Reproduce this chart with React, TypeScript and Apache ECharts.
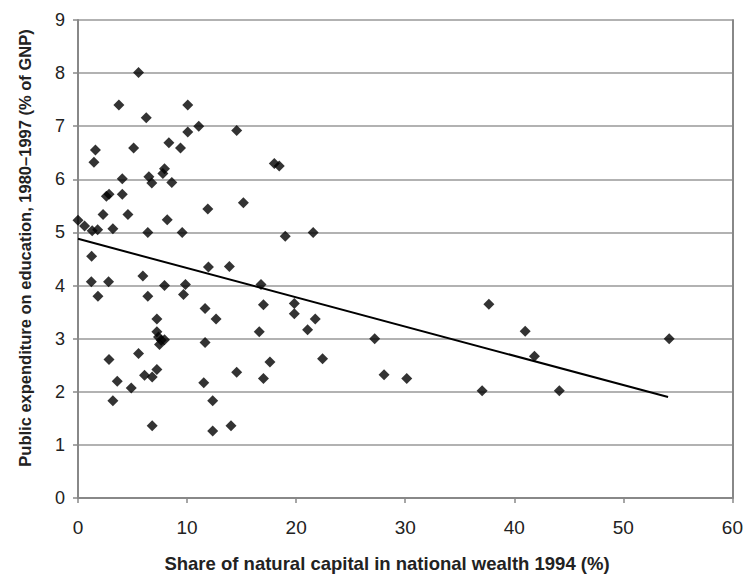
import React, { useEffect, useRef } from "react";
import * as echarts from "echarts";

const naturalCapitalShare: number[] = [
  0, 0.6, 1.3, 1.8, 1.25, 1.6, 1.46, 2.3, 2.6, 2.85, 3.2, 3.75, 4.06, 4.06, 4.58, 5.1, 5.55, 6.26, 6.4, 6.5,
  6.77, 7.93, 7.78, 8.18, 8.33, 8.6, 9.4, 9.55, 10.06, 10.06, 11.07, 11.9, 14.55, 15.16, 18.0, 18.45, 19.0, 21.56,
  1.22, 1.83, 2.8, 2.84, 3.6, 3.2, 4.88, 5.55, 5.95, 6.4, 6.1, 6.8, 7.23, 6.8, 7.23, 7.23, 7.38, 7.63, 7.47, 7.93,
  7.93, 9.85, 9.67, 11.96, 11.65, 12.66, 11.65, 11.53, 12.35, 12.35, 13.88, 14.55, 14.03, 16.78, 17.0, 16.62, 17.6,
  17.0, 19.83, 19.83, 21.05,
  21.75, 22.42, 27.2, 28.06, 30.14, 37.05, 37.67, 41.0, 41.85, 44.13, 54.2,
];

const educationSpending: number[] = [
  5.23, 5.12, 5.03, 5.05, 4.55, 6.55, 6.32, 5.34, 5.68, 5.72, 5.07, 7.4, 6.01, 5.72, 5.34, 6.59, 8.01, 7.16, 5.0, 6.05,
  5.93, 6.2, 6.11, 5.24, 6.69, 5.94, 6.59, 5.0, 7.4, 6.89, 7.0, 5.44, 6.92, 5.56, 6.3, 6.25, 4.93, 5.0,
  4.07, 3.8, 4.07, 2.61, 2.2, 1.83, 2.07, 2.72, 4.18, 3.8, 2.31, 2.28, 2.42, 1.36, 3.37, 3.13, 3.03, 2.97, 2.89, 2.98,
  4.0, 4.02, 3.83, 4.35, 3.57, 3.37, 2.93, 2.17, 1.83, 1.26, 4.36, 2.37, 1.36, 4.02, 3.64, 3.13, 2.56,
  2.25, 3.66, 3.47, 3.17,
  3.37, 2.62, 3.0, 2.32, 2.25, 2.02, 3.65, 3.14, 2.67, 2.02, 3.0,
];

const trendX: number[] = [0, 54.1];
const trendY: number[] = [4.88, 1.9];

const xTitle = "Share of natural capital in national wealth 1994 (%)";
const yTitle = "Public expenditure on education, 1980\u20131997 (% of GNP)";

export default function App() {
  const ref = useRef<HTMLDivElement>(null);
  useEffect(() => {
    if (!ref.current) return;
    const chart = echarts.init(ref.current, undefined, { renderer: "svg" });
    const points = naturalCapitalShare.map((x, i) => [x, educationSpending[i]]);
    const trend = trendX.map((x, i) => [x, trendY[i]]);
    const font = "Liberation Sans, Arial, sans-serif";
    chart.setOption({
      animation: false,
      backgroundColor: "#ffffff",
      grid: { left: 78, right: 12, top: 20, bottom: 77, containLabel: false },
      graphic: [
        {
          type: "text",
          x: 387,
          y: 563,
          style: {
            text: xTitle,
            fontFamily: font,
            fontSize: 18.5,
            fontWeight: "bold",
            fill: "#222",
            textAlign: "center",
            textVerticalAlign: "middle",
          },
        },
        {
          type: "text",
          x: 25,
          y: 248,
          rotation: Math.PI / 2,
          style: {
            text: yTitle,
            fontFamily: font,
            fontSize: 16.5,
            fontWeight: "bold",
            fill: "#222",
            textAlign: "center",
            textVerticalAlign: "middle",
          },
        },
      ],
      xAxis: {
        type: "value",
        min: 0,
        max: 60,
        interval: 10,
        axisLine: { show: true, lineStyle: { color: "#888", width: 2 } },
        axisTick: { show: true, inside: false, length: 5, lineStyle: { color: "#888", width: 1.5 } },
        axisLabel: { fontFamily: font, fontSize: 19, color: "#222", margin: 20 },
        splitLine: { show: false },
      },
      yAxis: [
        {
          type: "value",
          min: 0,
          max: 9,
          interval: 1,
          axisLine: { show: true, lineStyle: { color: "#888", width: 2 } },
          axisTick: { show: true, inside: false, length: 5, lineStyle: { color: "#888", width: 1.5 } },
          axisLabel: { fontFamily: font, fontSize: 18, color: "#222", margin: 13 },
          splitLine: { show: true, lineStyle: { color: "#999", width: 1.5 } },
        },
        {
          type: "value",
          min: 0,
          max: 9,
          interval: 1,
          position: "right",
          axisLine: { show: true, lineStyle: { color: "#888", width: 2 } },
          axisTick: { show: false },
          axisLabel: { show: false },
          splitLine: { show: false },
        },
      ],
      series: [
        {
          type: "scatter",
          data: points,
          symbol: "diamond",
          symbolSize: 11,
          itemStyle: { color: "#000" },
          z: 3,
        },
        {
          type: "line",
          data: trend,
          symbol: "none",
          lineStyle: { color: "#000", width: 2 },
          z: 2,
        },
      ],
    });
    return () => chart.dispose();
  }, []);
  return (
    <div
      ref={ref}
      style={{ position: "fixed", left: 0, top: 0, width: 746, height: 575, background: "#fff" }}
    />
  );
}
